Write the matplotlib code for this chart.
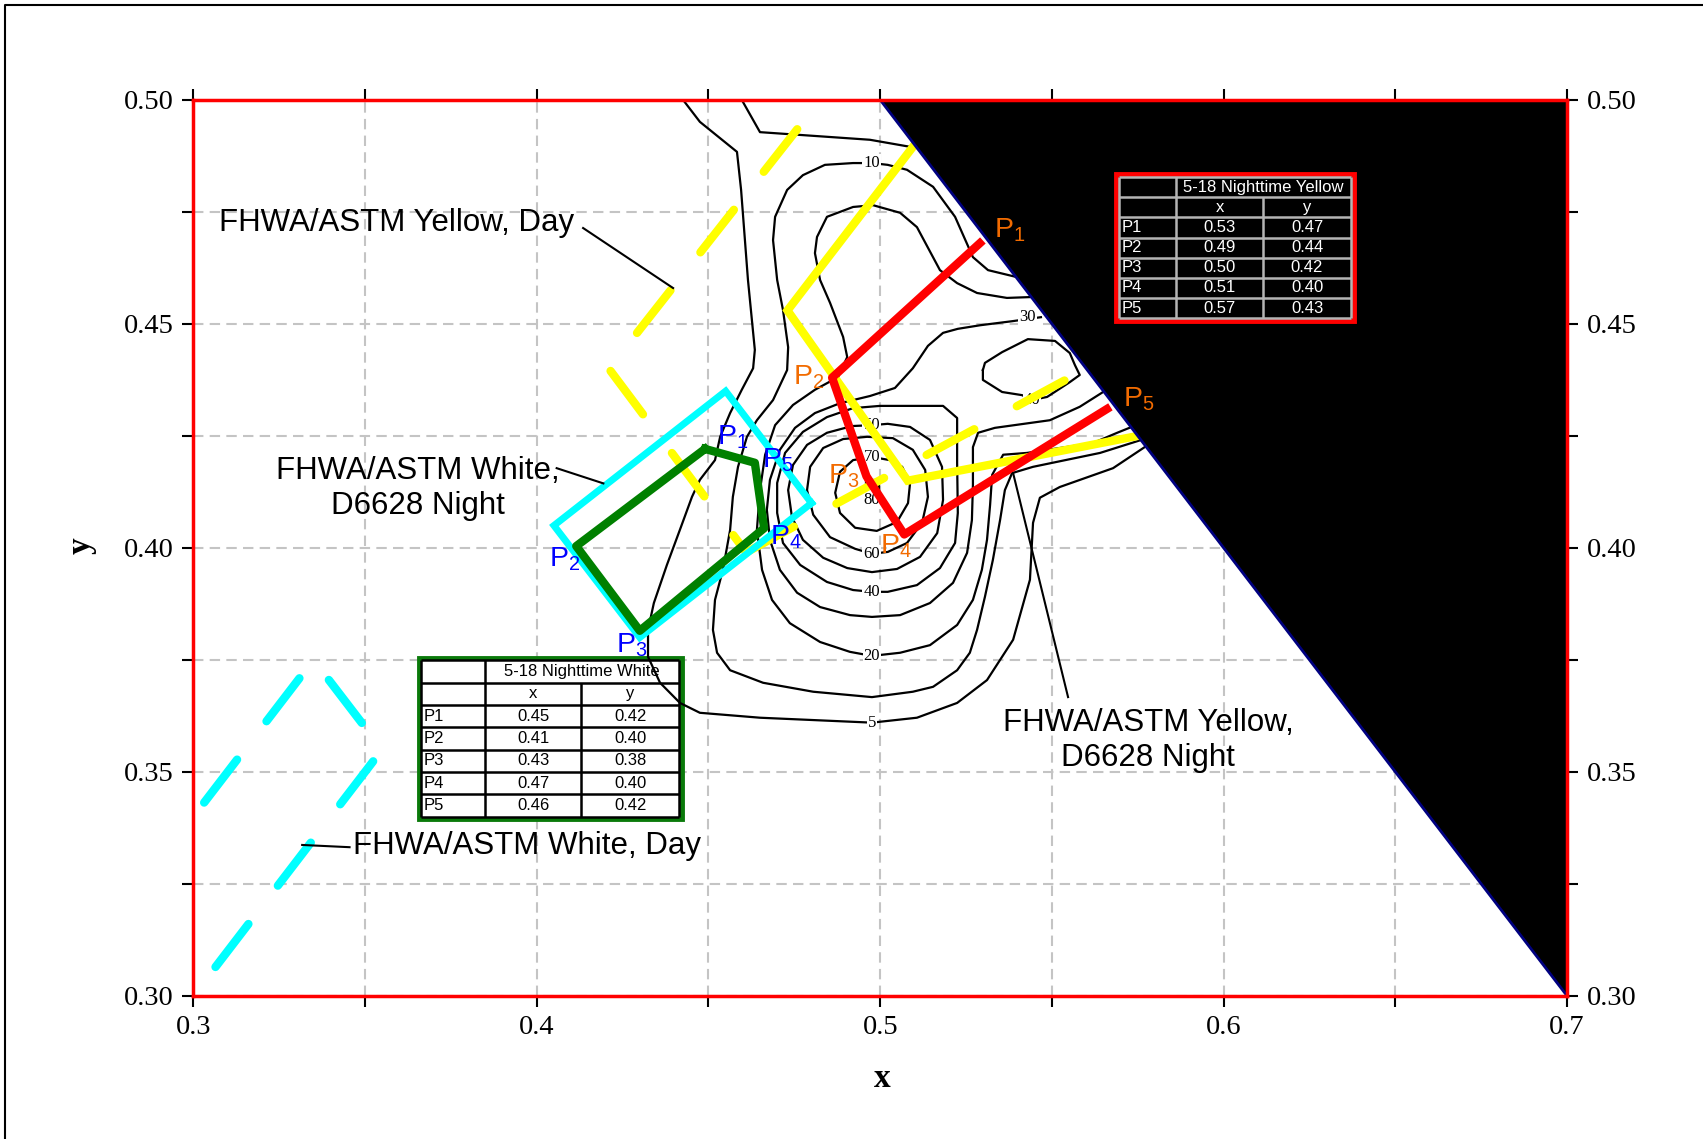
import matplotlib.pyplot as plt
from matplotlib.patches import Polygon, Rectangle
from matplotlib.lines import Line2D
from matplotlib.ticker import MultipleLocator, FormatStrFormatter

plt.rcParams['font.family'] = ['Liberation Sans', 'DejaVu Sans']
plt.rcParams['mathtext.fontset'] = 'custom'
plt.rcParams['mathtext.rm'] = 'Liberation Sans'
plt.rcParams['mathtext.it'] = 'Liberation Sans:italic'
plt.rcParams['mathtext.default'] = 'rm'

# 5-18 nighttime measurements (P1..P5)
white_x = [0.449, 0.4115, 0.430, 0.4662, 0.4635]
white_y = [0.4221, 0.4004, 0.3815, 0.4044, 0.419]
yellow_x = [0.529, 0.486, 0.496, 0.507, 0.566]
yellow_y = [0.468, 0.438, 0.416, 0.403, 0.431]
point_names = ['P1', 'P2', 'P3', 'P4', 'P5']

# FHWA/ASTM colour boxes
white_night_x = [0.480, 0.430, 0.405, 0.455]
white_night_y = [0.410, 0.380, 0.405, 0.435]
yellow_night_x = [0.510, 0.473, 0.508, 0.575]
yellow_night_y = [0.490, 0.453, 0.415, 0.425]
white_day_x = [0.285, 0.335, 0.355, 0.305]
white_day_y = [0.325, 0.375, 0.355, 0.305]
yellow_day_x = [0.461, 0.560, 0.500, 0.421]
yellow_day_y = [0.399, 0.440, 0.517, 0.440]

# edge of the chromaticity region
locus_x = [0.5, 0.7]
locus_y = [0.5, 0.3]

# density contours (percent), traced as polylines
c5a_x = [0.4426, 0.4475, 0.4583, 0.4595, 0.4615, 0.4635, 0.4630, 0.4597, 0.4563, 0.4534,
         0.4519, 0.4475, 0.4452, 0.4420, 0.4379, 0.4341, 0.4324, 0.4324, 0.4359, 0.4417,
         0.4475, 0.4650, 0.4976, 0.5107, 0.5224, 0.5311, 0.5387, 0.5436, 0.5445, 0.5465,
         0.5523, 0.5678, 0.5774]
c5a_y = [0.5000, 0.4951, 0.4884, 0.4799, 0.4598, 0.4442, 0.4401, 0.4353, 0.4301, 0.4248,
         0.4196, 0.4152, 0.4114, 0.4047, 0.3962, 0.3877, 0.3817, 0.3757, 0.3699, 0.3654,
         0.3632, 0.3621, 0.3610, 0.3621, 0.3654, 0.3705, 0.3795, 0.3929, 0.4056, 0.4112,
         0.4136, 0.4178, 0.4227]
c5b_x = [0.4597, 0.4650, 0.4970, 0.5104]
c5b_y = [0.5000, 0.4928, 0.4911, 0.4893]
c10_x = [0.5395, 0.5314, 0.5270, 0.5218, 0.5154, 0.5078, 0.5022, 0.4976, 0.4921, 0.4839,
         0.4775, 0.4729, 0.4694, 0.4688, 0.4700, 0.4717, 0.4732, 0.4729, 0.4688, 0.4641,
         0.4612, 0.4586, 0.4571, 0.4563, 0.4542, 0.4519, 0.4513, 0.4525, 0.4563, 0.4659,
         0.4805, 0.4976, 0.5095, 0.5154, 0.5224, 0.5261, 0.5282, 0.5305, 0.5328, 0.5349,
         0.5363, 0.5384, 0.5445, 0.5640, 0.5760]
c10_y = [0.4605, 0.4620, 0.4649, 0.4739, 0.4806, 0.4844, 0.4855, 0.4859, 0.4859, 0.4855,
         0.4832, 0.4799, 0.4739, 0.4687, 0.4598, 0.4531, 0.4448, 0.4397, 0.4330, 0.4285,
         0.4248, 0.4181, 0.4114, 0.4040, 0.3951, 0.3884, 0.3817, 0.3766, 0.3727, 0.3699,
         0.3679, 0.3667, 0.3679, 0.3690, 0.3727, 0.3766, 0.3817, 0.3891, 0.3973, 0.4062,
         0.4129, 0.4167, 0.4181, 0.4212, 0.4241]
c20_x = [0.5442, 0.5369, 0.5282, 0.5224, 0.5174, 0.5107, 0.5058, 0.4979, 0.4921, 0.4845,
         0.4816, 0.4810, 0.4825, 0.4854, 0.4892, 0.4904, 0.4877, 0.4810, 0.4746, 0.4694,
         0.4665, 0.4650, 0.4641, 0.4656, 0.4685, 0.4737, 0.4825, 0.4912, 0.4976, 0.5058,
         0.5145, 0.5224, 0.5270, 0.5296, 0.5311, 0.5320, 0.5326, 0.5358, 0.5427, 0.5619,
         0.5690, 0.5745]
c20_y = [0.4560, 0.4558, 0.4569, 0.4591, 0.4620, 0.4716, 0.4748, 0.4765, 0.4761, 0.4739,
         0.4694, 0.4658, 0.4598, 0.4547, 0.4471, 0.4426, 0.4381, 0.4353, 0.4319, 0.4274,
         0.4208, 0.4129, 0.4040, 0.3951, 0.3884, 0.3832, 0.3790, 0.3768, 0.3759, 0.3766,
         0.3783, 0.3828, 0.3884, 0.3951, 0.4018, 0.4096, 0.4163, 0.4208, 0.4212, 0.4234,
         0.4257, 0.4274]
c30_x = [0.5468, 0.5384, 0.5291, 0.5226, 0.5183, 0.5139, 0.5095, 0.5043, 0.4970, 0.4883,
         0.4810, 0.4752, 0.4708, 0.4679, 0.4670, 0.4679, 0.4708, 0.4758, 0.4825, 0.4912,
         0.4976, 0.5058, 0.5145, 0.5212, 0.5253, 0.5267, 0.5270, 0.5270, 0.5285, 0.5334,
         0.5494, 0.5581, 0.5649]
c30_y = [0.4515, 0.4506, 0.4497, 0.4489, 0.4480, 0.4451, 0.4401, 0.4357, 0.4339, 0.4323,
         0.4301, 0.4268, 0.4219, 0.4152, 0.4085, 0.4018, 0.3951, 0.3900, 0.3868, 0.3850,
         0.3846, 0.3850, 0.3877, 0.3922, 0.3989, 0.4062, 0.4141, 0.4225, 0.4257, 0.4268,
         0.4285, 0.4315, 0.4348]
c40_x = [0.4976, 0.5022, 0.5107, 0.5174, 0.5218, 0.5226, 0.5224, 0.5224, 0.5183, 0.5095,
         0.4999, 0.4921, 0.4845, 0.4775, 0.4723, 0.4700, 0.4700, 0.4717, 0.4767, 0.4845,
         0.4921, 0.4976]
c40_y = [0.3902, 0.3902, 0.3917, 0.3955, 0.4011, 0.4078, 0.4190, 0.4290, 0.4317, 0.4317,
         0.4317, 0.4312, 0.4292, 0.4259, 0.4212, 0.4145, 0.4078, 0.4011, 0.3962, 0.3924,
         0.3906, 0.3902]
c40b_x = [0.5299, 0.5305, 0.5355, 0.5430, 0.5509, 0.5552, 0.5567, 0.5581, 0.5552, 0.5518,
          0.5486, 0.5442, 0.5413, 0.5355, 0.5299, 0.5299]
c40b_y = [0.4397, 0.4413, 0.4437, 0.4466, 0.4462, 0.4435, 0.4408, 0.4386, 0.4370, 0.4353,
          0.4337, 0.4330, 0.4341, 0.4348, 0.4375, 0.4397]
c50_x = [0.4976, 0.5022, 0.5087, 0.5145, 0.5180, 0.5183, 0.5166, 0.5116, 0.5049, 0.4976,
         0.4904, 0.4834, 0.4775, 0.4743, 0.4732, 0.4746, 0.4787, 0.4845, 0.4918, 0.4976]
c50_y = [0.4274, 0.4277, 0.4270, 0.4241, 0.4181, 0.4107, 0.4033, 0.3980, 0.3953, 0.3946,
         0.3955, 0.3978, 0.4018, 0.4069, 0.4129, 0.4185, 0.4230, 0.4257, 0.4272, 0.4274]
c60_x = [0.4976, 0.5022, 0.5078, 0.5122, 0.5139, 0.5131, 0.5095, 0.5037, 0.4962, 0.4892,
         0.4834, 0.4796, 0.4787, 0.4805, 0.4854, 0.4927, 0.4976]
c60_y = [0.3987, 0.3991, 0.4011, 0.4056, 0.4114, 0.4174, 0.4219, 0.4245, 0.4248, 0.4243,
         0.4223, 0.4181, 0.4129, 0.4074, 0.4024, 0.3998, 0.3987]
c70_x = [0.4976, 0.5028, 0.5064, 0.5087, 0.5081, 0.5049, 0.4990, 0.4927, 0.4883, 0.4869,
         0.4883, 0.4921, 0.4976]
c70_y = [0.4203, 0.4196, 0.4181, 0.4145, 0.4100, 0.4058, 0.4038, 0.4045, 0.4078, 0.4123,
         0.4170, 0.4196, 0.4203]
c80_x = [0.4959, 0.4996, 0.4996, 0.4959, 0.4959]
c80_y = [0.4152, 0.4152, 0.4120, 0.4120, 0.4152]

contour_lines = [(c5a_x, c5a_y), (c5b_x, c5b_y), (c10_x, c10_y), (c20_x, c20_y),
                 (c30_x, c30_y), (c40_x, c40_y), (c40b_x, c40b_y), (c50_x, c50_y),
                 (c60_x, c60_y), (c70_x, c70_y), (c80_x, c80_y)]
level_text = ['5', '10', '20', '30', '40', '40', '50', '60', '70', '80']
level_x = [0.4976, 0.4976, 0.4976, 0.5430, 0.4976, 0.5442, 0.4976, 0.4976, 0.4976, 0.4976]
level_y = [0.3610, 0.4859, 0.3759, 0.4515, 0.3902, 0.4330, 0.4274, 0.3987, 0.4203, 0.4107]

fig = plt.figure(figsize=(17.03, 11.39), dpi=100)
ax = fig.add_axes([0.1135, 0.1256, 0.8067, 0.7867])
ax.set_xlim(0.3, 0.7)
ax.set_ylim(0.3, 0.5)

ax.xaxis.set_major_locator(MultipleLocator(0.1))
ax.xaxis.set_minor_locator(MultipleLocator(0.05))
ax.yaxis.set_major_locator(MultipleLocator(0.05))
ax.yaxis.set_minor_locator(MultipleLocator(0.025))
ax.xaxis.set_major_formatter(FormatStrFormatter('%.1f'))
ax.yaxis.set_major_formatter(FormatStrFormatter('%.2f'))
ax.tick_params(which='both', direction='out', top=True, right=True, labelright=True,
               width=1.5, length=8, labelsize=20.5, pad=6)
for lab in ax.get_xticklabels() + ax.get_yticklabels():
    lab.set_fontfamily('Liberation Serif')
ax.grid(which='both', color='#C4C4C4', linestyle=(0, (5, 3)), linewidth=1.5)
ax.set_axisbelow(True)
for sp in ax.spines.values():
    sp.set_color('red')
    sp.set_linewidth(2.5)
    sp.set_zorder(8)

fig.text(0.5179, 0.0531, 'x', fontsize=24, fontweight='bold', family='Liberation Serif',
         ha='center', va='center')
fig.text(0.0479, 0.5206, 'y', fontsize=24, fontweight='bold', family='Liberation Serif',
         ha='center', va='center', rotation=90)
fig.add_artist(Line2D([0.0032, 0.0032, 1.0], [0.0, 0.9953, 0.9953],
                      transform=fig.transFigure, color='black', lw=1.5))

# contour lines and their level labels
for cx, cy in contour_lines:
    ax.plot(cx, cy, color='black', lw=1.6, zorder=2)
for t, lx, ly in zip(level_text, level_x, level_y):
    ax.text(lx, ly, t, fontsize=12, family='Liberation Serif', ha='center', va='center',
            bbox=dict(fc='white', ec='none', pad=0.8), zorder=2.5)

# standard boxes
dash = dict(dashes=(6.5, 5.8), dash_capstyle='round', solid_capstyle='round')
ax.plot(white_day_x, white_day_y, color='#00FFFF', lw=6, zorder=3, **dash)
ax.plot(yellow_day_x + yellow_day_x[:1], yellow_day_y + yellow_day_y[:1],
        color='#FFFF00', lw=6, zorder=3, **dash)
ax.plot(yellow_night_x, yellow_night_y, color='#FFFF00', lw=6, zorder=3.2,
        solid_joinstyle='miter')
ax.plot(white_night_x + white_night_x[:1], white_night_y + white_night_y[:1],
        color='#00FFFF', lw=5, zorder=3.3, solid_joinstyle='miter')

# measured nighttime chromaticities
ax.plot(white_x + white_x[:1], white_y + white_y[:1], color='#008000', lw=6, zorder=3.5)
ax.plot(yellow_x, yellow_y, color='#FF0000', lw=6, zorder=3.5)

# region outside the gamut
ax.add_patch(Polygon([(locus_x[0], locus_y[0]), (locus_x[1], locus_y[0]),
                      (locus_x[1], locus_y[1])], closed=True, fc='black', ec='none', zorder=5))
ax.plot(locus_x, locus_y, color='#000080', lw=2, zorder=5.1)

# point labels
blue_lx = [0.4571, 0.4081, 0.4277, 0.4726, 0.4701]
blue_ly = [0.4248, 0.3975, 0.3783, 0.4023, 0.4195]
orange_lx = [0.5378, 0.4793, 0.4894, 0.5046, 0.5754]
orange_ly = [0.4710, 0.4382, 0.4161, 0.4004, 0.4331]
for i in range(5):
    txt = 'P$_{%d}$' % (i + 1)
    ax.text(blue_lx[i], blue_ly[i], txt, color='#0000FF', fontsize=20.5,
            ha='center', va='center', zorder=6)
    ax.text(orange_lx[i], orange_ly[i], txt, color='#F26B00', fontsize=20.5,
            ha='center', va='center', zorder=6)

# callouts
ann = dict(fontsize=22.5, zorder=6)
ax.text(0.3076, 0.4726, 'FHWA/ASTM Yellow, Day', ha='left', va='center', **ann)
ax.plot([0.4135, 0.4397], [0.4714, 0.4580], color='black', lw=1.5, zorder=6)
ax.text(0.3654, 0.4132, 'FHWA/ASTM White,\nD6628 Night', ha='center', va='center',
        multialignment='center', **ann)
ax.plot([0.4058, 0.4194], [0.4178, 0.4144], color='black', lw=1.5, zorder=6)
ax.text(0.3465, 0.3334, 'FHWA/ASTM White, Day', ha='left', va='center', **ann)
ax.plot([0.3455, 0.3317], [0.3332, 0.3337], color='black', lw=1.5, zorder=6)
ax.text(0.5780, 0.3570, 'FHWA/ASTM Yellow,\nD6628 Night', ha='center', va='center',
        multialignment='center', **ann)
ax.plot([0.5547, 0.5387], [0.3667, 0.4167], color='black', lw=1.5, zorder=6)


def draw_table(left, top, width, height, title, xs, ys, face, ink, rule, frame, z):
    tr = ax.transAxes
    fr = [0.2477, 0.3738, 0.3785]
    xb = [left, left + fr[0] * width, left + (fr[0] + fr[1]) * width, left + width]
    rh = height / 7.0
    ax.add_patch(Rectangle((left - 0.002, top - height - 0.003), width + 0.004, height + 0.006,
                           transform=tr, fc=face, ec=frame, lw=3.5, zorder=z))
    kw = dict(transform=tr, color=rule, lw=1.8, zorder=z + 0.1, solid_capstyle='butt')
    for r in range(8):
        yy = top - r * rh
        ax.plot([left, left + width], [yy, yy], **kw)
    ax.plot([xb[0], xb[0]], [top, top - height], **kw)
    ax.plot([xb[1], xb[1]], [top, top - height], **kw)
    ax.plot([xb[2], xb[2]], [top - rh, top - height], **kw)
    ax.plot([xb[3], xb[3]], [top, top - height], **kw)
    tk = dict(transform=tr, color=ink, fontsize=12, va='center', zorder=z + 0.2)
    ax.text((xb[1] + xb[3]) / 2, top - 0.5 * rh, title, ha='center', **tk)
    ax.text((xb[1] + xb[2]) / 2, top - 1.5 * rh, 'x', ha='center', **tk)
    ax.text((xb[2] + xb[3]) / 2, top - 1.5 * rh, 'y', ha='center', **tk)
    for r in range(5):
        yc = top - (r + 2.5) * rh
        ax.text(xb[0] + 0.002, yc, point_names[r], ha='left', **tk)
        ax.text((xb[1] + xb[2]) / 2, yc, '%.2f' % xs[r], ha='center', **tk)
        ax.text((xb[2] + xb[3]) / 2, yc, '%.2f' % ys[r], ha='center', **tk)


draw_table(0.6735, 0.9139, 0.1692, 0.1575, '5-18 Nighttime Yellow', yellow_x, yellow_y,
           'black', 'white', '#B4B4B4', 'red', 7)
draw_table(0.166, 0.3745, 0.1874, 0.1745, '5-18 Nighttime White', white_x, white_y,
           'white', 'black', 'black', '#0A7A0A', 1.5)

fig.savefig('out.png', dpi=100)
